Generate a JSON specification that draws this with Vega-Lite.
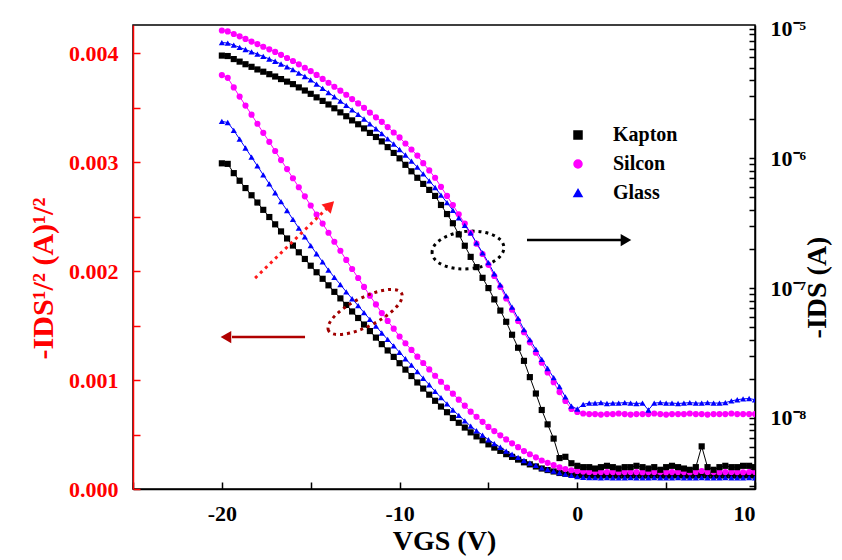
{
 "$schema": "https://vega.github.io/schema/vega-lite/v6.json",
 "width": 622, "height": 464,
 "autosize": {"type": "none"},
 "padding": {"left": 133, "top": 25, "right": 87, "bottom": 71},
 "background": "white",
 "config": {"view": {"stroke": "black", "strokeWidth": 1.5}, "font": "Liberation Serif"},
 "datasets": {
  "sq": [
   {"v":-20,"Kapton":0.002990,"Silcon":0.003800,"Glass":0.003375},
   {"v":-19.67,"Kapton":0.002985,"Silcon":0.003775,"Glass":0.003365},
   {"v":-19.33,"Kapton":0.002900,"Silcon":0.003687,"Glass":0.003293},
   {"v":-19,"Kapton":0.002830,"Silcon":0.003603,"Glass":0.003212},
   {"v":-18.67,"Kapton":0.002763,"Silcon":0.003520,"Glass":0.003131},
   {"v":-18.33,"Kapton":0.002697,"Silcon":0.003437,"Glass":0.003047},
   {"v":-18,"Kapton":0.002630,"Silcon":0.003353,"Glass":0.002966},
   {"v":-17.67,"Kapton":0.002563,"Silcon":0.003270,"Glass":0.002884},
   {"v":-17.33,"Kapton":0.002497,"Silcon":0.003187,"Glass":0.002802},
   {"v":-17,"Kapton":0.002430,"Silcon":0.003103,"Glass":0.002720},
   {"v":-16.67,"Kapton":0.002365,"Silcon":0.003020,"Glass":0.002638},
   {"v":-16.33,"Kapton":0.002300,"Silcon":0.002937,"Glass":0.002557},
   {"v":-16,"Kapton":0.002235,"Silcon":0.002853,"Glass":0.002475},
   {"v":-15.67,"Kapton":0.002173,"Silcon":0.002770,"Glass":0.002395},
   {"v":-15.33,"Kapton":0.002112,"Silcon":0.002687,"Glass":0.002315},
   {"v":-15,"Kapton":0.002050,"Silcon":0.002603,"Glass":0.002235},
   {"v":-14.67,"Kapton":0.001990,"Silcon":0.002520,"Glass":0.002160},
   {"v":-14.33,"Kapton":0.001930,"Silcon":0.002437,"Glass":0.002085},
   {"v":-14,"Kapton":0.001870,"Silcon":0.002353,"Glass":0.002010},
   {"v":-13.67,"Kapton":0.001810,"Silcon":0.002270,"Glass":0.001943},
   {"v":-13.33,"Kapton":0.001750,"Silcon":0.002187,"Glass":0.001877},
   {"v":-13,"Kapton":0.001690,"Silcon":0.002103,"Glass":0.001810},
   {"v":-12.67,"Kapton":0.001630,"Silcon":0.002020,"Glass":0.001747},
   {"v":-12.33,"Kapton":0.001570,"Silcon":0.001937,"Glass":0.001683},
   {"v":-12,"Kapton":0.001510,"Silcon":0.001855,"Glass":0.001620},
   {"v":-11.67,"Kapton":0.001450,"Silcon":0.001775,"Glass":0.001557},
   {"v":-11.33,"Kapton":0.001390,"Silcon":0.001695,"Glass":0.001495},
   {"v":-11,"Kapton":0.001330,"Silcon":0.001615,"Glass":0.001432},
   {"v":-10.67,"Kapton":0.001272,"Silcon":0.001543,"Glass":0.001373},
   {"v":-10.33,"Kapton":0.001213,"Silcon":0.001472,"Glass":0.001314},
   {"v":-10,"Kapton":0.001155,"Silcon":0.001400,"Glass":0.001255},
   {"v":-9.67,"Kapton":0.001096,"Silcon":0.001338,"Glass":0.001196},
   {"v":-9.33,"Kapton":0.001037,"Silcon":0.001277,"Glass":0.001137},
   {"v":-9,"Kapton":0.000978,"Silcon":0.001215,"Glass":0.001078},
   {"v":-8.67,"Kapton":0.000922,"Silcon":0.001157,"Glass":0.001017},
   {"v":-8.33,"Kapton":0.000866,"Silcon":0.001098,"Glass":0.000957},
   {"v":-8,"Kapton":0.000810,"Silcon":0.001040,"Glass":0.000896},
   {"v":-7.67,"Kapton":0.000757,"Silcon":0.000985,"Glass":0.000839},
   {"v":-7.33,"Kapton":0.000705,"Silcon":0.000930,"Glass":0.000782},
   {"v":-7,"Kapton":0.000652,"Silcon":0.000875,"Glass":0.000725},
   {"v":-6.67,"Kapton":0.000608,"Silcon":0.000820,"Glass":0.000676},
   {"v":-6.33,"Kapton":0.000564,"Silcon":0.000765,"Glass":0.000626},
   {"v":-6,"Kapton":0.000520,"Silcon":0.000710,"Glass":0.000577},
   {"v":-5.67,"Kapton":0.000483,"Silcon":0.000663,"Glass":0.000535},
   {"v":-5.33,"Kapton":0.000447,"Silcon":0.000617,"Glass":0.000494},
   {"v":-5,"Kapton":0.000410,"Silcon":0.000570,"Glass":0.000452},
   {"v":-4.67,"Kapton":0.000380,"Silcon":0.000532,"Glass":0.000417},
   {"v":-4.33,"Kapton":0.000350,"Silcon":0.000493,"Glass":0.000383},
   {"v":-4,"Kapton":0.000320,"Silcon":0.000455,"Glass":0.000348},
   {"v":-3.67,"Kapton":0.000295,"Silcon":0.000419,"Glass":0.000319},
   {"v":-3.33,"Kapton":0.000270,"Silcon":0.000384,"Glass":0.000291},
   {"v":-3,"Kapton":0.000245,"Silcon":0.000348,"Glass":0.000262},
   {"v":-2.67,"Kapton":0.000226,"Silcon":0.000319,"Glass":0.000239},
   {"v":-2.33,"Kapton":0.000207,"Silcon":0.000291,"Glass":0.000217},
   {"v":-2,"Kapton":0.000188,"Silcon":0.000262,"Glass":0.000194},
   {"v":-1.67,"Kapton":0.000174,"Silcon":0.000240,"Glass":0.000179},
   {"v":-1.33,"Kapton":0.000161,"Silcon":0.000219,"Glass":0.000164},
   {"v":-1,"Kapton":0.000147,"Silcon":0.000198,"Glass":0.000149},
   {"v":-0.67,"Kapton":0.000140,"Silcon":0.000184,"Glass":0.000137},
   {"v":-0.33,"Kapton":0.000133,"Silcon":0.000172,"Glass":0.000125},
   {"v":0,"Kapton":0.000128,"Silcon":0.000165,"Glass":0.000114},
   {"v":0.33,"Kapton":0.000126,"Silcon":0.000160,"Glass":0.000108},
   {"v":0.67,"Kapton":0.000125,"Silcon":0.000157,"Glass":0.000105},
   {"v":1,"Kapton":0.000124,"Silcon":0.000156,"Glass":0.000104},
   {"v":1.33,"Kapton":0.000125,"Silcon":0.000155,"Glass":0.000103},
   {"v":1.67,"Kapton":0.000126,"Silcon":0.000156,"Glass":0.000104},
   {"v":2,"Kapton":0.000125,"Silcon":0.000155,"Glass":0.000103},
   {"v":2.33,"Kapton":0.000124,"Silcon":0.000154,"Glass":0.000102},
   {"v":2.67,"Kapton":0.000125,"Silcon":0.000155,"Glass":0.000103},
   {"v":3,"Kapton":0.000125,"Silcon":0.000156,"Glass":0.000104},
   {"v":3.33,"Kapton":0.000126,"Silcon":0.000155,"Glass":0.000103},
   {"v":3.67,"Kapton":0.000124,"Silcon":0.000154,"Glass":0.000102},
   {"v":4,"Kapton":0.000125,"Silcon":0.000155,"Glass":0.000103},
   {"v":4.33,"Kapton":0.000126,"Silcon":0.000156,"Glass":0.000104},
   {"v":4.67,"Kapton":0.000125,"Silcon":0.000155,"Glass":0.000103},
   {"v":5,"Kapton":0.000124,"Silcon":0.000154,"Glass":0.000102},
   {"v":5.33,"Kapton":0.000125,"Silcon":0.000155,"Glass":0.000103},
   {"v":5.67,"Kapton":0.000126,"Silcon":0.000156,"Glass":0.000104},
   {"v":6,"Kapton":0.000125,"Silcon":0.000155,"Glass":0.000103},
   {"v":6.33,"Kapton":0.000124,"Silcon":0.000154,"Glass":0.000102},
   {"v":6.67,"Kapton":0.000125,"Silcon":0.000156,"Glass":0.000103},
   {"v":7,"Kapton":0.000127,"Silcon":0.000165,"Glass":0.000104},
   {"v":7.33,"Kapton":0.000125,"Silcon":0.000156,"Glass":0.000103},
   {"v":7.67,"Kapton":0.000124,"Silcon":0.000155,"Glass":0.000102},
   {"v":8,"Kapton":0.000125,"Silcon":0.000154,"Glass":0.000103},
   {"v":8.33,"Kapton":0.000126,"Silcon":0.000155,"Glass":0.000104},
   {"v":8.67,"Kapton":0.000125,"Silcon":0.000156,"Glass":0.000103},
   {"v":9,"Kapton":0.000124,"Silcon":0.000155,"Glass":0.000102},
   {"v":9.33,"Kapton":0.000125,"Silcon":0.000154,"Glass":0.000103},
   {"v":9.67,"Kapton":0.000126,"Silcon":0.000156,"Glass":0.000104},
   {"v":10,"Kapton":0.000125,"Silcon":0.000157,"Glass":0.000103}
  ],
  "lg": [
   {"v":-20,"Kapton":6.19e-6,"Silcon":9.66e-6,"Glass":7.80e-6},
   {"v":-19.67,"Kapton":6.14e-6,"Silcon":9.51e-6,"Glass":7.73e-6},
   {"v":-19.33,"Kapton":5.82e-6,"Silcon":9.08e-6,"Glass":7.45e-6},
   {"v":-19,"Kapton":5.56e-6,"Silcon":8.71e-6,"Glass":7.16e-6},
   {"v":-18.67,"Kapton":5.31e-6,"Silcon":8.32e-6,"Glass":6.89e-6},
   {"v":-18.33,"Kapton":5.07e-6,"Silcon":7.94e-6,"Glass":6.61e-6},
   {"v":-18,"Kapton":4.84e-6,"Silcon":7.59e-6,"Glass":6.35e-6},
   {"v":-17.67,"Kapton":4.65e-6,"Silcon":7.24e-6,"Glass":6.10e-6},
   {"v":-17.33,"Kapton":4.45e-6,"Silcon":6.92e-6,"Glass":5.83e-6},
   {"v":-17,"Kapton":4.27e-6,"Silcon":6.61e-6,"Glass":5.60e-6},
   {"v":-16.67,"Kapton":4.08e-6,"Silcon":6.27e-6,"Glass":5.33e-6},
   {"v":-16.33,"Kapton":3.90e-6,"Silcon":5.93e-6,"Glass":5.07e-6},
   {"v":-16,"Kapton":3.73e-6,"Silcon":5.62e-6,"Glass":4.83e-6},
   {"v":-15.67,"Kapton":3.52e-6,"Silcon":5.30e-6,"Glass":4.54e-6},
   {"v":-15.33,"Kapton":3.33e-6,"Silcon":4.99e-6,"Glass":4.27e-6},
   {"v":-15,"Kapton":3.14e-6,"Silcon":4.70e-6,"Glass":4.02e-6},
   {"v":-14.67,"Kapton":2.95e-6,"Silcon":4.39e-6,"Glass":3.73e-6},
   {"v":-14.33,"Kapton":2.77e-6,"Silcon":4.09e-6,"Glass":3.46e-6},
   {"v":-14,"Kapton":2.60e-6,"Silcon":3.82e-6,"Glass":3.21e-6},
   {"v":-13.67,"Kapton":2.43e-6,"Silcon":3.56e-6,"Glass":2.98e-6},
   {"v":-13.33,"Kapton":2.26e-6,"Silcon":3.32e-6,"Glass":2.76e-6},
   {"v":-13,"Kapton":2.11e-6,"Silcon":3.09e-6,"Glass":2.56e-6},
   {"v":-12.67,"Kapton":1.96e-6,"Silcon":2.86e-6,"Glass":2.36e-6},
   {"v":-12.33,"Kapton":1.83e-6,"Silcon":2.65e-6,"Glass":2.18e-6},
   {"v":-12,"Kapton":1.70e-6,"Silcon":2.45e-6,"Glass":2.01e-6},
   {"v":-11.67,"Kapton":1.57e-6,"Silcon":2.25e-6,"Glass":1.84e-6},
   {"v":-11.33,"Kapton":1.46e-6,"Silcon":2.07e-6,"Glass":1.69e-6},
   {"v":-11,"Kapton":1.35e-6,"Silcon":1.91e-6,"Glass":1.55e-6},
   {"v":-10.67,"Kapton":1.22e-6,"Silcon":1.74e-6,"Glass":1.41e-6},
   {"v":-10.33,"Kapton":1.10e-6,"Silcon":1.58e-6,"Glass":1.29e-6},
   {"v":-10,"Kapton":1.00e-6,"Silcon":1.45e-6,"Glass":1.17e-6},
   {"v":-9.67,"Kapton":8.91e-7,"Silcon":1.30e-6,"Glass":1.06e-6},
   {"v":-9.33,"Kapton":7.94e-7,"Silcon":1.17e-6,"Glass":9.51e-7},
   {"v":-9,"Kapton":7.08e-7,"Silcon":1.05e-6,"Glass":8.55e-7},
   {"v":-8.67,"Kapton":6.35e-7,"Silcon":9.18e-7,"Glass":7.59e-7},
   {"v":-8.33,"Kapton":5.71e-7,"Silcon":8.07e-7,"Glass":6.71e-7},
   {"v":-8,"Kapton":5.13e-7,"Silcon":7.08e-7,"Glass":5.96e-7},
   {"v":-7.67,"Kapton":4.37e-7,"Silcon":6.03e-7,"Glass":5.21e-7},
   {"v":-7.33,"Kapton":3.72e-7,"Silcon":5.13e-7,"Glass":4.55e-7},
   {"v":-7,"Kapton":3.16e-7,"Silcon":4.37e-7,"Glass":3.98e-7},
   {"v":-6.67,"Kapton":2.59e-7,"Silcon":3.70e-7,"Glass":3.48e-7},
   {"v":-6.33,"Kapton":2.12e-7,"Silcon":3.14e-7,"Glass":3.04e-7},
   {"v":-6,"Kapton":1.74e-7,"Silcon":2.66e-7,"Glass":2.66e-7},
   {"v":-5.67,"Kapton":1.45e-7,"Silcon":2.20e-7,"Glass":2.23e-7},
   {"v":-5.33,"Kapton":1.20e-7,"Silcon":1.83e-7,"Glass":1.87e-7},
   {"v":-5,"Kapton":1.00e-7,"Silcon":1.51e-7,"Glass":1.57e-7},
   {"v":-4.67,"Kapton":8.18e-8,"Silcon":1.24e-7,"Glass":1.29e-7},
   {"v":-4.33,"Kapton":6.71e-8,"Silcon":1.02e-7,"Glass":1.06e-7},
   {"v":-4,"Kapton":5.50e-8,"Silcon":8.32e-8,"Glass":8.71e-8},
   {"v":-3.67,"Kapton":4.37e-8,"Silcon":6.81e-8,"Glass":7.13e-8},
   {"v":-3.33,"Kapton":3.47e-8,"Silcon":5.58e-8,"Glass":5.85e-8},
   {"v":-3,"Kapton":2.75e-8,"Silcon":4.57e-8,"Glass":4.79e-8},
   {"v":-2.67,"Kapton":2.06e-8,"Silcon":3.82e-8,"Glass":4.01e-8},
   {"v":-2.33,"Kapton":1.54e-8,"Silcon":3.18e-8,"Glass":3.37e-8},
   {"v":-2,"Kapton":1.15e-8,"Silcon":2.66e-8,"Glass":2.82e-8},
   {"v":-1.67,"Kapton":8.91e-9,"Silcon":2.24e-8,"Glass":2.40e-8},
   {"v":-1.33,"Kapton":6.92e-9,"Silcon":1.88e-8,"Glass":2.04e-8},
   {"v":-1,"Kapton":4.90e-9,"Silcon":1.58e-8,"Glass":1.74e-8},
   {"v":-0.67,"Kapton":5.01e-9,"Silcon":1.35e-8,"Glass":1.45e-8},
   {"v":-0.33,"Kapton":4.47e-9,"Silcon":1.17e-8,"Glass":1.23e-8},
   {"v":0,"Kapton":4.27e-9,"Silcon":1.11e-8,"Glass":1.17e-8},
   {"v":0.33,"Kapton":4.17e-9,"Silcon":1.08e-8,"Glass":1.27e-8},
   {"v":0.67,"Kapton":4.17e-9,"Silcon":1.07e-8,"Glass":1.30e-8},
   {"v":1,"Kapton":4.07e-9,"Silcon":1.07e-8,"Glass":1.30e-8},
   {"v":1.33,"Kapton":4.17e-9,"Silcon":1.06e-8,"Glass":1.31e-8},
   {"v":1.67,"Kapton":4.27e-9,"Silcon":1.07e-8,"Glass":1.29e-8},
   {"v":2,"Kapton":4.17e-9,"Silcon":1.07e-8,"Glass":1.30e-8},
   {"v":2.33,"Kapton":4.07e-9,"Silcon":1.08e-8,"Glass":1.30e-8},
   {"v":2.67,"Kapton":4.17e-9,"Silcon":1.07e-8,"Glass":1.31e-8},
   {"v":3,"Kapton":4.17e-9,"Silcon":1.06e-8,"Glass":1.30e-8},
   {"v":3.33,"Kapton":4.27e-9,"Silcon":1.07e-8,"Glass":1.29e-8},
   {"v":3.67,"Kapton":4.17e-9,"Silcon":1.07e-8,"Glass":1.30e-8},
   {"v":4,"Kapton":4.07e-9,"Silcon":1.07e-8,"Glass":1.15e-8},
   {"v":4.33,"Kapton":4.17e-9,"Silcon":1.08e-8,"Glass":1.30e-8},
   {"v":4.67,"Kapton":3.98e-9,"Silcon":1.07e-8,"Glass":1.31e-8},
   {"v":5,"Kapton":4.17e-9,"Silcon":1.06e-8,"Glass":1.30e-8},
   {"v":5.33,"Kapton":4.27e-9,"Silcon":1.07e-8,"Glass":1.30e-8},
   {"v":5.67,"Kapton":4.17e-9,"Silcon":1.07e-8,"Glass":1.29e-8},
   {"v":6,"Kapton":4.07e-9,"Silcon":1.07e-8,"Glass":1.30e-8},
   {"v":6.33,"Kapton":3.98e-9,"Silcon":1.08e-8,"Glass":1.31e-8},
   {"v":6.67,"Kapton":4.17e-9,"Silcon":1.07e-8,"Glass":1.30e-8},
   {"v":7,"Kapton":6.03e-9,"Silcon":1.07e-8,"Glass":1.30e-8},
   {"v":7.33,"Kapton":4.17e-9,"Silcon":1.06e-8,"Glass":1.31e-8},
   {"v":7.67,"Kapton":3.98e-9,"Silcon":1.07e-8,"Glass":1.30e-8},
   {"v":8,"Kapton":4.17e-9,"Silcon":1.07e-8,"Glass":1.30e-8},
   {"v":8.33,"Kapton":4.27e-9,"Silcon":1.07e-8,"Glass":1.31e-8},
   {"v":8.67,"Kapton":4.17e-9,"Silcon":1.08e-8,"Glass":1.35e-8},
   {"v":9,"Kapton":4.17e-9,"Silcon":1.07e-8,"Glass":1.38e-8},
   {"v":9.33,"Kapton":4.27e-9,"Silcon":1.07e-8,"Glass":1.40e-8},
   {"v":9.67,"Kapton":4.27e-9,"Silcon":1.07e-8,"Glass":1.41e-8},
   {"v":10,"Kapton":4.17e-9,"Silcon":1.07e-8,"Glass":1.38e-8}
  ]
 },
 "layer": [
  {
   "layer": [
    {
     "data": {"name": "sq"},
     "transform": [{"fold": ["Kapton", "Silcon", "Glass"], "as": ["series", "val"]}],
     "mark": {"type": "line", "strokeWidth": 1, "clip": true},
     "encoding": {
      "x": {"field": "v", "type": "quantitative", "scale": {"domain": [-25, 10], "nice": false},
       "axis": {"title": "VGS (V)", "values": [-25, -20, -15, -10, -5, 0, 5, 10],
        "labelExpr": "datum.value % 10 == 0 ? '' + datum.value : ''",
        "tickSize": -7, "tickColor": "black", "tickWidth": 1.5, "labelPadding": 21,
        "domainColor": "black", "domainWidth": 1.5, "grid": false,
        "labelFont": "Liberation Serif", "labelFontSize": 22, "labelFontWeight": "bold", "labelColor": "black",
        "titleFont": "Liberation Serif", "titleFontSize": 28, "titleFontWeight": "bold", "titleColor": "black", "titlePadding": 3}},
      "y": {"field": "val", "type": "quantitative", "scale": {"domain": [0, 0.00426], "nice": false, "zero": false},
       "axis": {"orient": "left", "title": "-IDS¹/² (A)¹/²", "titleY": 253,
        "values": [0, 0.0005, 0.001, 0.0015, 0.002, 0.0025, 0.003, 0.0035, 0.004],
        "labelExpr": "round(datum.value * 2000) % 2 == 0 ? format(datum.value, '.3f') : ''",
        "tickSize": -7, "tickColor": "#ff0000", "tickWidth": 1.5, "labelPadding": 22,
        "domainColor": "#ff0000", "domainWidth": 1.5, "grid": false,
        "labelFont": "Liberation Serif", "labelFontSize": 22, "labelFontWeight": "bold", "labelColor": "#ff0000",
        "titleFont": "Liberation Serif", "titleFontSize": 30, "titleFontWeight": "bold", "titleColor": "#ff0000", "titlePadding": 10}},
      "color": {"field": "series", "type": "nominal", "scale": {"domain": ["Kapton", "Silcon", "Glass"], "range": ["#000000", "#ff00ff", "#0000ff"]},
       "legend": {"title": null, "orient": "none", "legendX": 435, "legendY": 100, "labelOffset": 25, "labelFont": "Liberation Serif", "labelFontSize": 20, "labelFontWeight": "bold", "labelColor": "black", "rowPadding": 9, "symbolSize": 64}}
     }
    },
    {
     "data": {"name": "sq"},
     "transform": [{"fold": ["Kapton", "Silcon", "Glass"], "as": ["series", "val"]}],
     "mark": {"type": "point", "filled": true, "size": 38, "opacity": 1, "clip": true},
     "encoding": {
      "x": {"field": "v", "type": "quantitative"},
      "y": {"field": "val", "type": "quantitative"},
      "color": {"field": "series", "type": "nominal"},
      "shape": {"field": "series", "type": "nominal", "scale": {"domain": ["Kapton", "Silcon", "Glass"], "range": ["square", "circle", "triangle-up"]}}
     }
    },
    {
     "data": {"values": [
      {"v": -18.13, "val": 0.001936, "v2": -14.08, "val2": 0.002578}
     ]},
     "mark": {"type": "rule", "color": "#ff1a1a", "strokeWidth": 3, "strokeDash": [3, 4]},
     "encoding": {"x": {"field": "v", "type": "quantitative"}, "y": {"field": "val", "type": "quantitative"}, "x2": {"field": "v2"}, "y2": {"field": "val2"}}
    },
    {
     "data": {"values": [
      {"v": -13.91, "val": 0.002606}
     ]},
     "mark": {"type": "point", "shape": "triangle-up", "angle": 45, "filled": true, "size": 170, "color": "#ff1a1a", "opacity": 1},
     "encoding": {"x": {"field": "v", "type": "quantitative"}, "y": {"field": "val", "type": "quantitative"}}
    },
    {
     "data": {"values": [
      {"v": -15.32, "val": 0.001395, "v2": -19.43, "val2": 0.001395}
     ]},
     "mark": {"type": "rule", "color": "#b00000", "strokeWidth": 2.5},
     "encoding": {"x": {"field": "v", "type": "quantitative"}, "y": {"field": "val", "type": "quantitative"}, "x2": {"field": "v2"}, "y2": {"field": "val2"}}
    },
    {
     "data": {"values": [
      {"v": -19.77, "val": 0.001395}
     ]},
     "mark": {"type": "point", "shape": "triangle-left", "filled": true, "size": 150, "color": "#b00000", "opacity": 1},
     "encoding": {"x": {"field": "v", "type": "quantitative"}, "y": {"field": "val", "type": "quantitative"}}
    },
    {
     "data": {"values": [
      {"v": -2.83, "val": 0.002286, "v2": 2.52, "val2": 0.002286}
     ]},
     "mark": {"type": "rule", "color": "black", "strokeWidth": 2.5},
     "encoding": {"x": {"field": "v", "type": "quantitative"}, "y": {"field": "val", "type": "quantitative"}, "x2": {"field": "v2"}, "y2": {"field": "val2"}}
    },
    {
     "data": {"values": [
      {"v": 2.74, "val": 0.002286}
     ]},
     "mark": {"type": "point", "shape": "triangle-right", "filled": true, "size": 150, "color": "black", "opacity": 1},
     "encoding": {"x": {"field": "v", "type": "quantitative"}, "y": {"field": "val", "type": "quantitative"}}
    },
    {
     "data": {"values": [
      {"v": -11.94, "val": 0.001625}
     ]},
     "mark": {"type": "point", "shape": "M-1,0A1,0.35,0,1,1,1,0A1,0.35,0,1,1,-1,0Z", "angle": -27, "size": 6724, "filled": false, "stroke": "#a00000", "strokeWidth": 3, "strokeDash": [3, 4], "opacity": 1},
     "encoding": {"x": {"field": "v", "type": "quantitative"}, "y": {"field": "val", "type": "quantitative"}}
    },
    {
     "data": {"values": [
      {"v": -6.15, "val": 0.002194}
     ]},
     "mark": {"type": "point", "shape": "M-1,0A1,0.52,0,1,1,1,0A1,0.52,0,1,1,-1,0Z", "angle": -5, "size": 5184, "filled": false, "stroke": "black", "strokeWidth": 3, "strokeDash": [3, 4], "opacity": 1},
     "encoding": {"x": {"field": "v", "type": "quantitative"}, "y": {"field": "val", "type": "quantitative"}}
    }
   ]
  },
  {
   "layer": [
    {
     "data": {"name": "lg"},
     "transform": [{"fold": ["Kapton", "Silcon", "Glass"], "as": ["series", "cur"]}],
     "mark": {"type": "line", "strokeWidth": 1, "clip": true},
     "encoding": {
      "x": {"field": "v", "type": "quantitative"},
      "y": {"field": "cur", "type": "quantitative", "scale": {"type": "log", "domain": [2.83e-9, 1.065e-5], "nice": false},
       "axis": {"orient": "right", "title": "-IDS (A)", "titleAngle": 270, "titleBaseline": "top", "titleY": 262,
        "values": [3e-9,4e-9,5e-9,6e-9,7e-9,8e-9,9e-9,1e-8,2e-8,3e-8,4e-8,5e-8,6e-8,7e-8,8e-8,9e-8,1e-7,2e-7,3e-7,4e-7,5e-7,6e-7,7e-7,8e-7,9e-7,1e-6,2e-6,3e-6,4e-6,5e-6,6e-6,7e-6,8e-6,9e-6,1e-5],
        "labelExpr": "abs(log(datum.value)/LN10 - round(log(datum.value)/LN10)) > 0.01 ? '' : round(log(datum.value)/LN10) == -5 ? '10⁻⁵' : round(log(datum.value)/LN10) == -6 ? '10⁻⁶' : round(log(datum.value)/LN10) == -7 ? '10⁻⁷' : '10⁻⁸'",
        "tickSize": -6, "tickColor": "black", "tickWidth": 1.5, "labelPadding": 21,
        "domainColor": "black", "domainWidth": 1.5, "grid": false,
        "labelFont": "Liberation Serif", "labelFontSize": 22, "labelFontWeight": "bold", "labelColor": "black",
        "titleFont": "Liberation Serif", "titleFontSize": 28, "titleFontWeight": "bold", "titleColor": "black", "titlePadding": -2}},
      "color": {"field": "series", "type": "nominal"}
     }
    },
    {
     "data": {"name": "lg"},
     "transform": [{"fold": ["Kapton", "Silcon", "Glass"], "as": ["series", "cur"]}],
     "mark": {"type": "point", "filled": true, "size": 38, "opacity": 1, "clip": true},
     "encoding": {
      "x": {"field": "v", "type": "quantitative"},
      "y": {"field": "cur", "type": "quantitative"},
      "color": {"field": "series", "type": "nominal"},
      "shape": {"field": "series", "type": "nominal"}
     }
    }
   ]
  }
 ],
 "resolve": {"scale": {"y": "independent"}}
}
